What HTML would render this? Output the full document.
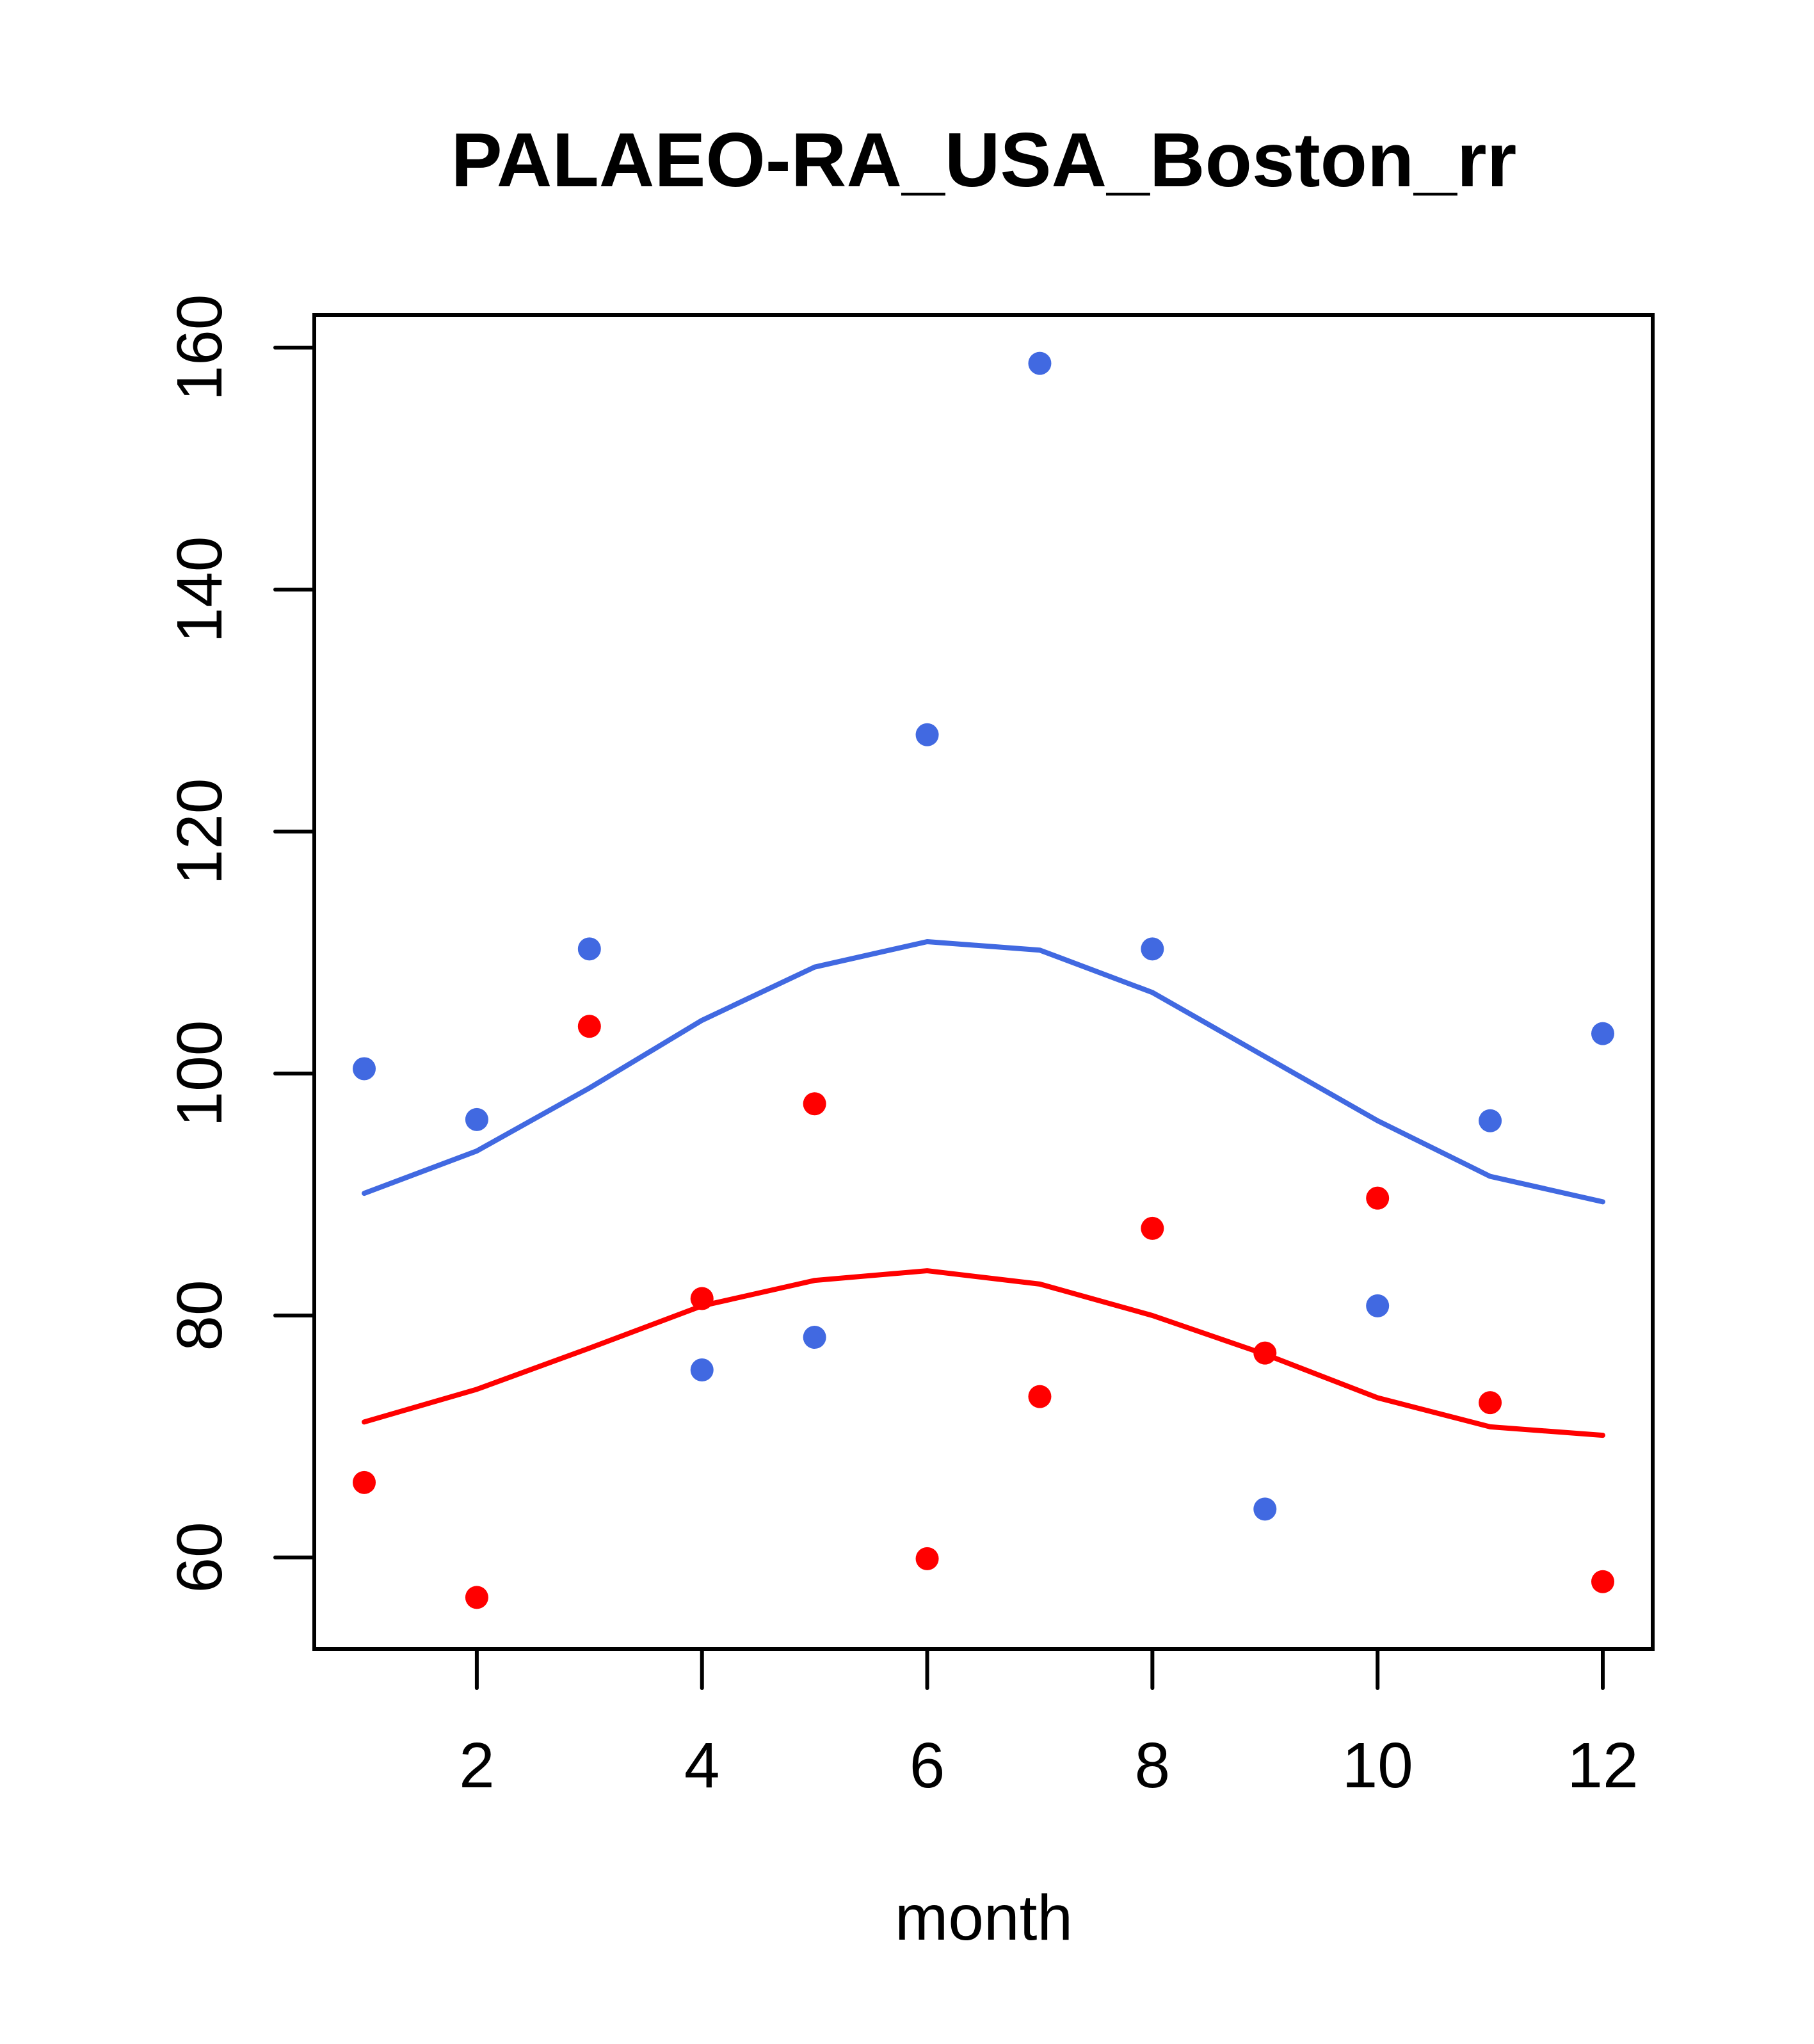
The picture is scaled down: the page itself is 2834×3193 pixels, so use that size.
<!DOCTYPE html>
<html><head><meta charset="utf-8"><style>html,body{margin:0;padding:0;background:#fff}</style></head>
<body>
<svg id="chart" width="2834" height="3188" xmlns="http://www.w3.org/2000/svg" font-family="Liberation Sans, Arial, sans-serif">
<rect width="2834" height="3188" fill="#fff"/>
<text x="1537" y="291" font-size="120" font-weight="bold" text-anchor="middle">PALAEO-RA_USA_Boston_rr</text>
<text x="1537" y="3030" font-size="100" text-anchor="middle">month</text>
<rect x="491" y="492" width="2091" height="2084" fill="none" stroke="#000" stroke-width="6"/>
<g id="axes"></g>
<g id="marks"></g>
</svg>
<script>
const months = [1,2,3,4,5,6,7,8,9,10,11,12];
const bluePoints = [100.4,96.2,110.3,75.5,78.2,128.0,158.7,110.3,64.0,80.8,96.1,103.3];
const redPoints = [66.2,56.7,103.9,81.4,97.5,59.9,73.3,87.2,76.9,89.7,72.8,58.0];
const blueLine = [90.1,93.6,98.8,104.4,108.8,110.9,110.2,106.7,101.4,96.1,91.5,89.4];
const redLine = [71.2,73.9,77.3,80.8,82.9,83.7,82.6,80.0,76.8,73.2,70.8,70.1];
const xTicks = [2,4,6,8,10,12];
const yTicks = [60,80,100,120,140,160];

const NS = "http://www.w3.org/2000/svg";
function xs(m){return 569 + (m-1)*(2504-569)/11;}
function ys(v){return 543 + (160-v)*(2433-543)/100;}
function mk(tag, attrs, parent){const e=document.createElementNS(NS,tag);for(const k in attrs)e.setAttribute(k,attrs[k]);parent.appendChild(e);return e;}
const axes=document.getElementById('axes'), marks=document.getElementById('marks');

xTicks.forEach(t=>{
  const l=mk('line',{x1:xs(t),x2:xs(t),y1:2576,y2:2637,stroke:'#000','stroke-width':6,'stroke-linecap':'round'},axes);
  
  
  const tx=mk('text',{x:xs(t),y:2792,'font-size':100,'text-anchor':'middle'},axes);
  tx.textContent=t;
  
  
});
yTicks.forEach(t=>{
  const l=mk('line',{x1:430,x2:491,y1:ys(t),y2:ys(t),stroke:'#000','stroke-width':6,'stroke-linecap':'round'},axes);
  
  
  const tx=mk('text',{x:346,y:ys(t),'font-size':100,'text-anchor':'middle',transform:`rotate(-90 346 ${ys(t)})`},axes);
  tx.textContent=t;
  
  
});

function line(vals,color,name){
  const p=mk('polyline',{points:months.map((m,i)=>xs(m)+','+ys(vals[i])).join(' '),fill:'none',stroke:color,'stroke-width':8,'stroke-linecap':'round','stroke-linejoin':'round'},marks);
  
  
}
function pts(vals,color,name){
  months.forEach((m,i)=>{
    const c=mk('circle',{cx:xs(m),cy:ys(vals[i]),r:18,fill:color},marks);
    
    
  });
}
line(blueLine,'#4169E1','blue-line');
line(redLine,'#FF0000','red-line');
pts(bluePoints,'#4169E1','blue-point');
pts(redPoints,'#FF0000','red-point');
</script>
</body></html>
